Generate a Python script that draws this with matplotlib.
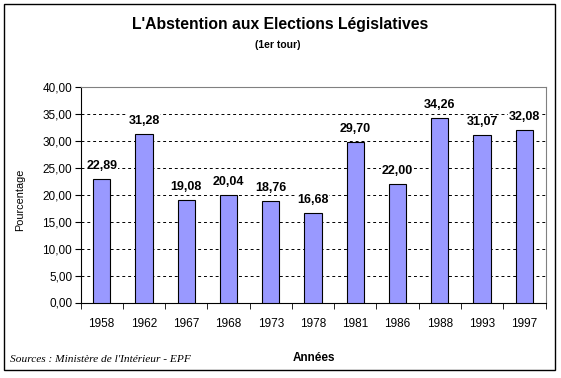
import matplotlib
matplotlib.use("Agg")
import matplotlib.pyplot as plt
from matplotlib.patches import Rectangle
import numpy as np

years = ["1958", "1962", "1967", "1968", "1973", "1978", "1981", "1986", "1988", "1993", "1997"]
values = [22.89, 31.28, 19.08, 20.04, 18.76, 16.68, 29.70, 22.00, 34.26, 31.07, 32.08]
yticks = [0, 5, 10, 15, 20, 25, 30, 35, 40]

W, H = 561, 378
fig = plt.figure(figsize=(W / 100, H / 100), dpi=100)
plt.rcParams['font.family'] = ['Liberation Sans', 'DejaVu Sans']

# outer border
fig.patches.append(Rectangle((4 / W, 1 - 370 / H), 551 / W, 366 / H, transform=fig.transFigure,
                             fill=False, edgecolor='black', linewidth=1.0))

left, right, top, bottom = 80.5, 545.5, 87, 302.5
ax = fig.add_axes([left / W, 1 - bottom / H, (right - left) / W, (bottom - top) / H])

x = np.arange(len(years))
ax.bar(x, values, width=0.41, color='#9999FF', edgecolor='black', linewidth=0.8, zorder=3)
for xi, v in zip(x, values):
    ax.text(xi, v + 1.3, f"{v:.2f}".replace('.', ','), ha='center', va='bottom',
            fontsize=9, fontweight='bold', zorder=4,
            bbox=dict(boxstyle='square,pad=0.05', facecolor='white', edgecolor='none'))

ax.set_xlim(-0.5, len(years) - 0.5)
ax.set_ylim(0, 40)
ax.set_yticks(yticks)
ax.set_yticklabels([f"{t:.2f}".replace('.', ',') for t in yticks], fontsize=8.5)
for t in yticks[1:-1]:
    ax.axhline(t, color='black', linestyle=(0, (3, 3)), linewidth=0.7, zorder=1)

ax.set_xticks(x)
ax.set_xticklabels(years, fontsize=8.5)
ax.set_xticks(np.arange(-0.5, len(years), 1), minor=True)
ax.tick_params(axis='x', which='major', length=0, pad=11)
ax.tick_params(axis='x', which='minor', length=4, direction='out', color='black')
ax.tick_params(axis='y', length=4, direction='out', pad=2)

ax.spines['top'].set_color('#808080')
ax.spines['right'].set_color('#808080')
ax.spines['left'].set_color('black')
ax.spines['bottom'].set_color('black')
for s in ax.spines.values():
    s.set_linewidth(0.8)

fig.text(20.5 / W, 1 - 200 / H, "Pourcentage", rotation=90, ha='center', va='center', fontsize=7.8)

fig.text(280 / W, 1 - 25 / H, "L'Abstention aux Elections Législatives", ha='center', va='center',
         fontsize=11.3, fontweight='bold')
fig.text(278 / W, 1 - 45 / H, "(1er tour)", ha='center', va='center', fontsize=7.5, fontweight='bold')
fig.text(314 / W, 1 - 358 / H, "Années", ha='center', va='center', fontsize=8.5, fontweight='bold')
fig.text(10 / W, 1 - 360 / H, "Sources : Ministère de l'Intérieur - EPF", ha='left', va='center',
         fontsize=8.2, style='italic', family=['Liberation Serif', 'DejaVu Serif'])

fig.savefig("out.png", dpi=100)
